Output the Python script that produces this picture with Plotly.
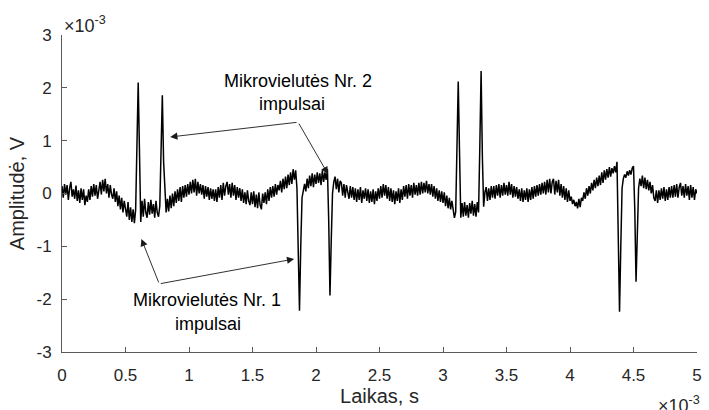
import plotly.graph_objects as go

# time axis in units of 1e-3 s (sampling step 0.01e-3 s), amplitude in units of 1e-3 V
amp_mV = [
    0.14, -0.08, 0.18, -0.02, 0.16, -0.12, 0.10, 0.22, -0.06, 0.08,
    -0.10, 0.15, -0.14, 0.06, -0.18, 0.10, -0.12, 0.08, -0.22, -0.04,
    -0.16, 0.08, -0.12, 0.14, -0.06, 0.18, -0.04, 0.16, -0.10, 0.12,
    0.22, -0.02, 0.26, 0.04, 0.28, 0.00, 0.18, -0.08, 0.16, -0.02,
    -0.10, 0.10, -0.16, 0.04, -0.24, -0.04, -0.30, -0.08, -0.36, -0.14,
    -0.32, -0.44, -0.16, -0.50, -0.26, -0.54, -0.30, -0.56, -0.30, 0.90,
    2.10, 0.80, -0.54, -0.14, -0.44, -0.10, -0.36, -0.46, -0.16, -0.40,
    -0.12, -0.38, -0.20, -0.46, -0.14, -0.36, -0.44, -0.24, 0.70, 1.86,
    0.60, -0.02, -0.36, -0.10, -0.34, -0.04, -0.28, 0.00, -0.24, 0.04,
    -0.18, 0.08, -0.14, 0.12, -0.16, 0.14, -0.08, 0.16, -0.06, 0.18,
    -0.02, 0.22, 0.00, 0.26, 0.02, 0.28, -0.04, 0.22, 0.00, 0.18,
    -0.02, 0.16, -0.10, 0.14, -0.06, 0.12, -0.12, 0.10, -0.10, 0.08,
    -0.14, 0.08, -0.16, 0.12, -0.08, 0.16, -0.12, 0.20, -0.04, 0.14,
    0.22, -0.02, 0.18, -0.08, 0.20, -0.04, 0.16, -0.12, 0.12, -0.08,
    0.10, -0.14, 0.08, -0.18, 0.02, -0.20, 0.06, -0.14, -0.22, 0.02,
    -0.20, 0.04, -0.26, -0.02, -0.28, 0.02, -0.22, -0.30, 0.00, -0.18,
    0.02, -0.20, 0.08, -0.14, 0.12, -0.08, 0.14, -0.06, 0.18, -0.02,
    0.16, 0.06, 0.24, 0.02, 0.28, 0.08, 0.32, 0.10, 0.36, 0.16,
    0.40, 0.18, 0.46, 0.26, 0.44, 0.10, -1.20, -2.22, -1.00, -0.08,
    0.05, 0.18, 0.04, 0.28, 0.10, 0.34, 0.14, 0.38, 0.12, 0.36,
    0.18, 0.40, 0.20, 0.38, 0.16, 0.44, 0.22, 0.40, 0.26, 0.46,
    -0.50, -1.93, -0.90, 0.00, 0.22, 0.32, 0.08, 0.28, 0.02, 0.24,
    0.20, -0.04, 0.18, -0.08, 0.16, -0.02, -0.10, 0.14, -0.08, 0.12,
    -0.12, 0.10, -0.16, 0.08, -0.12, 0.12, -0.18, 0.06, -0.10, 0.10,
    -0.14, 0.08, -0.18, 0.04, -0.16, 0.08, -0.20, 0.04, -0.14, 0.10,
    -0.10, 0.14, -0.08, 0.18, -0.04, 0.16, -0.10, 0.12, -0.14, 0.10,
    -0.16, 0.06, -0.20, 0.04, -0.14, 0.10, -0.18, 0.08, -0.12, 0.14,
    -0.06, 0.16, -0.10, 0.18, -0.04, 0.16, -0.08, 0.20, -0.02, 0.16,
    -0.04, 0.20, -0.02, 0.22, 0.00, 0.20, 0.02, 0.24, 0.00, 0.18,
    -0.02, 0.18, -0.06, 0.14, -0.10, 0.10, -0.14, 0.06, -0.16, 0.04,
    -0.18, 0.02, -0.24, -0.04, -0.28, -0.08, -0.30, -0.14, -0.36, -0.46,
    -0.35, 0.90, 2.12, 0.80, -0.46, -0.18, -0.44, -0.16, -0.42, -0.22,
    -0.46, -0.18, -0.38, -0.14, -0.42, -0.20, -0.44, -0.16, -0.36, 0.90,
    2.32, 0.70, -0.25, 0.02, 0.12, -0.14, 0.10, -0.12, 0.14, -0.08,
    0.14, -0.10, 0.16, -0.04, 0.18, -0.08, 0.16, -0.04, 0.20, -0.02,
    0.16, -0.04, 0.22, -0.02, 0.18, -0.08, 0.14, -0.06, 0.12, -0.10,
    0.08, -0.14, 0.10, -0.16, 0.06, -0.12, 0.10, -0.16, 0.08, -0.12,
    0.12, -0.10, 0.14, -0.06, 0.16, -0.04, 0.18, -0.02, 0.20, 0.00,
    0.22, -0.02, 0.26, 0.02, 0.28, 0.00, 0.22, 0.28, -0.02, 0.24,
    0.02, 0.26, -0.04, 0.18, -0.08, 0.14, -0.12, 0.10, -0.16, 0.06,
    -0.14, -0.06, -0.20, -0.12, -0.24, -0.16, -0.28, -0.10, -0.26, -0.08,
    -0.14, 0.02, -0.10, 0.10, -0.04, 0.14, 0.00, 0.20, 0.06, 0.26,
    0.10, 0.30, 0.14, 0.34, 0.16, 0.40, 0.20, 0.44, 0.26, 0.46,
    0.30, 0.50, 0.32, 0.48, 0.38, 0.52, 0.40, 0.60, -0.80, -2.24,
    -1.00, 0.10, 0.28, 0.36, 0.30, 0.42, 0.34, 0.44, 0.36, 0.48,
    0.52, -0.30, -1.67, -0.70, 0.10, 0.28, 0.14, 0.34, 0.10, 0.30,
    0.08, 0.26, 0.06, 0.22, 0.00, 0.16, -0.08, -0.14, 0.06, -0.18,
    0.06, -0.12, 0.10, -0.10, 0.12, -0.14, 0.08, -0.12, 0.12, -0.08,
    0.14, -0.08, 0.16, -0.06, 0.18, -0.08, 0.12, 0.20, -0.04, 0.14,
    -0.08, 0.18, -0.04, 0.14, -0.12, 0.16, -0.08, 0.12, -0.12, 0.08,
    0.00,
]
sample_step_ms = 0.01
time_ms = [round(i * sample_step_ms, 2) for i in range(len(amp_mV))]

x_ticks = [0, 0.5, 1, 1.5, 2, 2.5, 3, 3.5, 4, 4.5, 5]
x_ticklabels = ["0", "0.5", "1", "1.5", "2", "2.5", "3", "3.5", "4", "4.5", "5"]
y_ticks = [-3, -2, -1, 0, 1, 2, 3]
y_ticklabels = ["-3", "-2", "-1", "0", "1", "2", "3"]

label_nr2 = ["Mikrovielutės Nr. 2", "impulsai"]
label_nr1 = ["Mikrovielutės Nr. 1", "impulsai"]
# arrow vertex and targets (data coords)
nr2_vertex = (1.859, 1.35)
nr2_targets = [(0.852, 1.07), (2.094, 0.37)]
nr1_vertex = (0.766, -1.71)
nr1_targets = [(0.625, -0.86), (1.828, -1.24)]

FONT = "Arial, Liberation Sans, sans-serif"
TXT = "#262626"
AX = "#5a5a5a"

fig = go.Figure()
fig.add_trace(go.Scatter(x=time_ms, y=amp_mV, mode="lines",
                         line=dict(color="black", width=1.5), showlegend=False,
                         hoverinfo="skip"))

annotations = []
for vx, vy, targets in [(*nr2_vertex, nr2_targets), (*nr1_vertex, nr1_targets)]:
    for tx, ty in targets:
        annotations.append(dict(x=tx, y=ty, ax=vx, ay=vy, xref="x", yref="y",
                                axref="x", ayref="y", text="", showarrow=True,
                                arrowhead=2, arrowsize=1.6, arrowwidth=0.9,
                                arrowcolor="#1a1a1a", standoff=0, startstandoff=0))

for t, xv, yv in zip(label_nr2, [1.859, 1.81], [2.13, 1.70]):
    annotations.append(dict(x=xv, y=yv, xref="x", yref="y", text=t, showarrow=False,
                            font=dict(family=FONT, size=18, color="black")))
for t, xv, yv in zip(label_nr1, [1.14, 1.15], [-2.02, -2.47]):
    annotations.append(dict(x=xv, y=yv, xref="x", yref="y", text=t, showarrow=False,
                            font=dict(family=FONT, size=18, color="black")))

# exponent labels (MATLAB style)
annotations.append(dict(x=0, y=1, xref="paper", yref="paper", xanchor="left",
                        yanchor="bottom", yshift=-3, xshift=0,
                        text="×10<sup>-3</sup>", showarrow=False,
                        font=dict(family=FONT, size=18, color=TXT)))
annotations.append(dict(x=1, y=0, xref="paper", yref="paper", xanchor="right",
                        yanchor="top", yshift=-39, xshift=5,
                        text="×10<sup>-3</sup>", showarrow=False,
                        font=dict(family=FONT, size=18, color=TXT)))

fig.update_layout(
    width=709, height=410,
    margin=dict(l=62, r=7, t=35, b=57),
    paper_bgcolor="white", plot_bgcolor="white",
    font=dict(family=FONT, size=17, color=TXT),
    annotations=annotations,
    xaxis=dict(range=[0, 5], tickvals=x_ticks, ticktext=x_ticklabels,
               showline=True, linecolor=AX, linewidth=1, mirror=False,
               ticks="inside", ticklen=5, tickcolor=AX, showgrid=False,
               zeroline=False, tickfont=dict(size=17, color=TXT),
               ticklabelstandoff=8, ticklabeloverflow="allow",
               title=dict(text="Laikas, s", font=dict(size=20, color=TXT), standoff=4)),
    yaxis=dict(range=[-3, 3], tickvals=y_ticks, ticktext=y_ticklabels,
               showline=True, linecolor=AX, linewidth=1, mirror=False,
               ticks="inside", ticklen=5, tickcolor=AX, showgrid=False,
               zeroline=False, tickfont=dict(size=17, color=TXT),
               ticklabelstandoff=6, ticklabeloverflow="allow",
               title=dict(text="Amplitudė, V", font=dict(size=20, color=TXT), standoff=6)),
)

fig.write_html("out.html")
